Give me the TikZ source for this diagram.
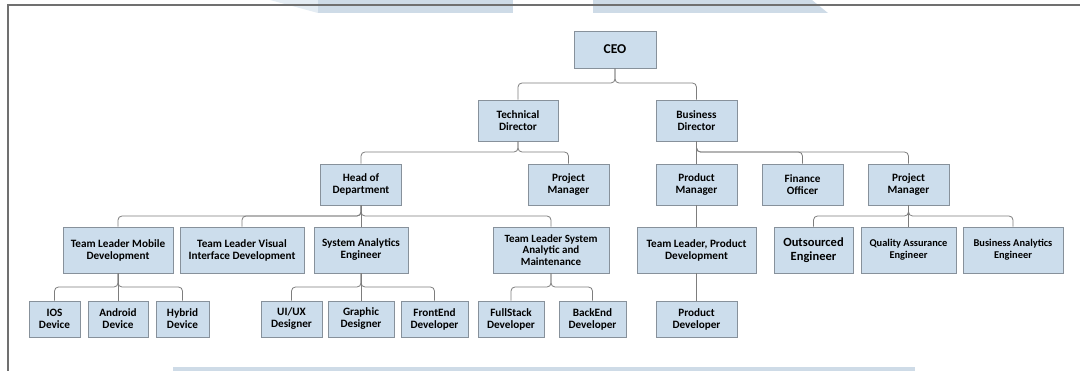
\documentclass[tikz,border=0pt]{standalone}
\usepackage{fontspec}
\setmainfont{Carlito}
\definecolor{boxfill}{RGB}{204,221,236}
\definecolor{boxline}{RGB}{135,145,155}
\definecolor{connline}{RGB}{125,125,125}
\definecolor{wmark}{RGB}{206,219,231}
\definecolor{wmarklight}{RGB}{228,236,243}
\definecolor{frameline}{RGB}{112,112,112}
\tikzset{
  orgbox/.style={draw=boxline, line width=0.8pt, fill=boxfill, align=center,
    inner sep=0pt, font=\bfseries\fontsize{11.2}{12}\selectfont},
  conn/.style={draw=connline, line width=0.8pt, rounded corners=4pt},
  frame/.style={draw=frameline, line width=2pt},
}
\newcommand\orgconn[3]{\draw[conn] (#1.south) -- (#1.south |- #3) -- (#2.north |- #3) -- (#2.north);}
\begin{document}
\begin{tikzpicture}[x=1pt,y=-1pt]
\useasboundingbox (0,0) rectangle (1080,371);
% watermark fragments
\fill[wmarklight] (270,0) -- (318,0) -- (318,13) -- cycle;
\fill[wmark] (318,0) rectangle (513,13);
\fill[wmark] (593,0) -- (812,0) -- (828,13) -- (593,13) -- cycle;
\fill[wmark] (173,367) rectangle (915,371);
% frame
\draw[frame] (1080,5) -- (8,5) -- (8,371);

% level 0
\node[orgbox, minimum width=82pt, minimum height=37pt, font=\bfseries\fontsize{13.5}{15}\selectfont] (ceo) at (615,49.5) {CEO};
% level 1
\node[orgbox, minimum width=80pt, minimum height=41pt] (td) at (518,120.5) {Technical\\Director};
\node[orgbox, minimum width=81pt, minimum height=41pt] (bd) at (696.5,120.5) {Business\\Director};
% level 2
\node[orgbox, minimum width=81pt, minimum height=41pt] (hod) at (361,184.5) {Head of\\Department};
\node[orgbox, minimum width=81pt, minimum height=41pt] (pma) at (568.5,184.5) {Project\\Manager};
\node[orgbox, minimum width=81pt, minimum height=41pt] (prm) at (696.5,184.5) {Product\\Manager};
\node[orgbox, minimum width=81pt, minimum height=41pt] (fo) at (802.5,184.5) {Finance\\Officer};
\node[orgbox, minimum width=81pt, minimum height=41pt] (pmb) at (908.5,184.5) {Project\\Manager};
% level 3
\node[orgbox, minimum width=110pt, minimum height=46pt] (tlm) at (118,250) {Team Leader Mobile\\Development};
\node[orgbox, minimum width=124pt, minimum height=46pt] (tlv) at (242,250) {Team Leader Visual\\Interface Development};
\node[orgbox, minimum width=94pt, minimum height=46pt] (sae) at (361,250) {System Analytics\\Engineer};
\node[orgbox, minimum width=116pt, minimum height=46pt, font=\bfseries\fontsize{11}{11.5}\selectfont] (tls) at (551,250) {Team Leader System\\Analytic and\\Maintenance};
\node[orgbox, minimum width=119pt, minimum height=46pt] (tlp) at (696.5,250) {Team Leader, Product\\Development};
\node[orgbox, minimum width=79pt, minimum height=46pt, font=\bfseries\fontsize{12.5}{13.5}\selectfont] (oe) at (813.5,250) {Outsourced\\Engineer};
\node[orgbox, minimum width=95pt, minimum height=46pt, font=\bfseries\fontsize{10.4}{12}\selectfont] (qa) at (908.5,250) {Quality Assurance\\Engineer};
\node[orgbox, minimum width=100pt, minimum height=46pt, font=\bfseries\fontsize{10.4}{12}\selectfont] (bae) at (1013,250) {Business Analytics\\Engineer};
% level 4
\node[orgbox, minimum width=51pt, minimum height=36pt] (ios) at (54.5,319) {IOS\\Device};
\node[orgbox, minimum width=60pt, minimum height=36pt] (andr) at (118,319) {Android\\Device};
\node[orgbox, minimum width=53pt, minimum height=36pt] (hyb) at (182.5,319) {Hybrid\\Device};
\node[orgbox, minimum width=61pt, minimum height=36pt] (uiux) at (291.5,319) {UI/UX\\Designer};
\node[orgbox, minimum width=66pt, minimum height=36pt] (gd) at (361,319) {Graphic\\Designer};
\node[orgbox, minimum width=67pt, minimum height=36pt] (fe) at (434.5,319) {FrontEnd\\Developer};
\node[orgbox, minimum width=66pt, minimum height=36pt] (fs) at (511,319) {FullStack\\Developer};
\node[orgbox, minimum width=67pt, minimum height=36pt] (be) at (592.5,319) {BackEnd\\Developer};
\node[orgbox, minimum width=81pt, minimum height=36pt] (pd) at (696.5,319) {Product\\Developer};

% bus coordinates
\coordinate (bceo) at (0,83);
\coordinate (btd) at (0,152);
\coordinate (bbd) at (0,152);
\coordinate (bhod) at (0,216);
\coordinate (bpmb) at (0,216);
\coordinate (btlm) at (0,287);
\coordinate (bsae) at (0,287);
\coordinate (btls) at (0,287);

% connectors
\orgconn{ceo}{td}{bceo}
\orgconn{ceo}{bd}{bceo}
\orgconn{td}{hod}{btd}
\orgconn{td}{pma}{btd}
\draw[conn] (bd.south) -- (prm.north);
\orgconn{bd}{fo}{bbd}
\orgconn{bd}{pmb}{bbd}
\orgconn{hod}{tlm}{bhod}
\orgconn{hod}{tlv}{bhod}
\draw[conn] (hod.south) -- (sae.north);
\orgconn{hod}{tls}{bhod}
\draw[conn] (prm.south) -- (tlp.north);
\draw[conn] (tlp.south) -- (pd.north);
\orgconn{pmb}{oe}{bpmb}
\draw[conn] (pmb.south) -- (qa.north);
\orgconn{pmb}{bae}{bpmb}
\orgconn{tlm}{ios}{btlm}
\draw[conn] (tlm.south) -- (andr.north);
\orgconn{tlm}{hyb}{btlm}
\orgconn{sae}{uiux}{bsae}
\draw[conn] (sae.south) -- (gd.north);
\orgconn{sae}{fe}{bsae}
\orgconn{tls}{fs}{btls}
\orgconn{tls}{be}{btls}
\end{tikzpicture}
\end{document}
